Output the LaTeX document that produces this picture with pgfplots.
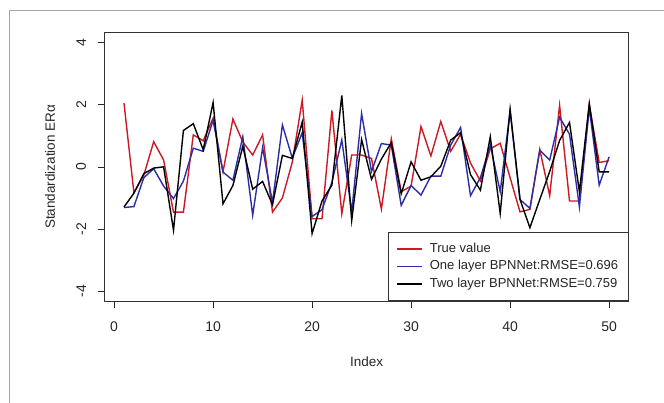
\documentclass[border=0pt]{standalone}
\usepackage{pgfplots}
\pgfplotsset{compat=1.18}
\usepackage{fontspec}
\setmainfont{Liberation Sans}
\definecolor{tvred}{RGB}{205,25,35}
\definecolor{olblue}{RGB}{45,45,165}
\pgfplotstableread{
i red blue black
1 2.05 -1.31 -1.29
2 -0.83 -1.28 -0.85
3 -0.27 -0.35 -0.22
4 0.81 -0.06 -0.04
5 0.22 -0.62 0.00
6 -1.46 -1.02 -2.04
7 -1.46 -0.46 1.17
8 1.03 0.60 1.39
9 0.84 0.50 0.55
10 1.57 1.50 2.07
11 -0.16 -0.17 -1.19
12 1.54 -0.43 -0.60
13 0.80 0.97 0.66
14 0.38 -1.56 -0.72
15 1.03 0.62 -0.47
16 -1.46 -1.15 -1.22
17 -1.00 1.35 0.37
18 0.15 0.28 0.27
19 2.15 1.10 1.44
20 -1.67 -1.60 -2.15
21 -1.67 -1.38 -1.10
22 1.82 -0.50 -0.59
23 -1.51 0.87 2.30
24 0.38 -1.45 -1.73
25 0.38 1.72 0.88
26 0.27 -0.15 -0.40
27 -1.36 0.75 0.25
28 0.90 0.70 0.78
29 -0.80 -1.24 -0.87
30 -0.62 -0.60 0.16
31 1.30 -0.91 -0.43
32 0.35 -0.30 -0.32
33 1.46 -0.30 0.02
34 0.50 0.70 0.86
35 1.05 1.27 1.10
36 0.12 -0.93 -0.25
37 -0.45 -0.35 -0.75
38 0.58 0.70 0.97
39 0.76 -0.80 -1.50
40 -0.35 1.80 1.85
41 -1.45 -1.05 -1.05
42 -1.37 -1.34 -1.96
43 0.56 0.54 -1.05
44 -0.93 0.22 -0.15
45 1.98 1.60 0.85
46 -1.10 1.05 1.43
47 -1.10 -1.29 -0.80
48 2.00 1.90 2.04
49 0.14 -0.59 -0.16
50 0.20 0.32 -0.16
}\datatable
\begin{document}
\begin{tikzpicture}[x=1pt,y=1pt]
\useasboundingbox (0,0) rectangle (664,403);
\draw[black!35, line width=0.8pt] (9,0) -- (9,393) -- (664,393);
\begin{axis}[
  at={(104.6pt,102pt)}, anchor=south west,
  scale only axis, width=523.9pt, height=268.3pt,
  xmin=-0.96, xmax=51.96, ymin=-4.32, ymax=4.32,
  xtick={0,10,...,50}, ytick={-4,-2,0,2,4},
  tick align=outside, xtick pos=bottom, ytick pos=left,
  major tick length=7pt,
  tick style={black!85, line width=0.6pt},
  axis line style={black!80, line width=0.8pt},
  /pgf/number format/assume math mode=true,
  ticklabel style={font=\fontsize{14}{16}\selectfont, text=black!85},
  xticklabel style={yshift=-10pt},
  yticklabel style={rotate=90, anchor=south},
  yticklabel shift=8pt,
  xlabel={Index},
  ylabel={Standardization ERα},
  label style={font=\fontsize{13.5}{15}\selectfont, text=black!85},
  xlabel style={at={(axis description cs:0.5,-0.2423)}, anchor=base},
  ylabel style={at={(axis description cs:-0.0947,0.5)}, anchor=base},
  legend image code/.code={\draw[#1] (0pt,0pt) -- (25pt,0pt);},
  legend cell align=left,
  legend style={at={(1,0)}, anchor=south east, draw=black!80, line width=0.8pt,
    font=\fontsize{13}{15}\selectfont, text=black!85,
    inner xsep=8pt, inner ysep=7.75pt, column sep=5pt, row sep=0pt,
    nodes={inner sep=2pt, text height=10pt, text depth=3.5pt}},
]
\addplot[tvred, line width=1.4pt] table[x=i, y=red] {\datatable};
\addlegendentry{True value}
\addplot[olblue, line width=1.4pt] table[x=i, y=blue] {\datatable};
\addlegendentry{One layer BPNNet:RMSE=0.696}
\addplot[black, line width=1.4pt] table[x=i, y=black] {\datatable};
\addlegendentry{Two layer BPNNet:RMSE=0.759}
\end{axis}
\end{tikzpicture}
\end{document}
